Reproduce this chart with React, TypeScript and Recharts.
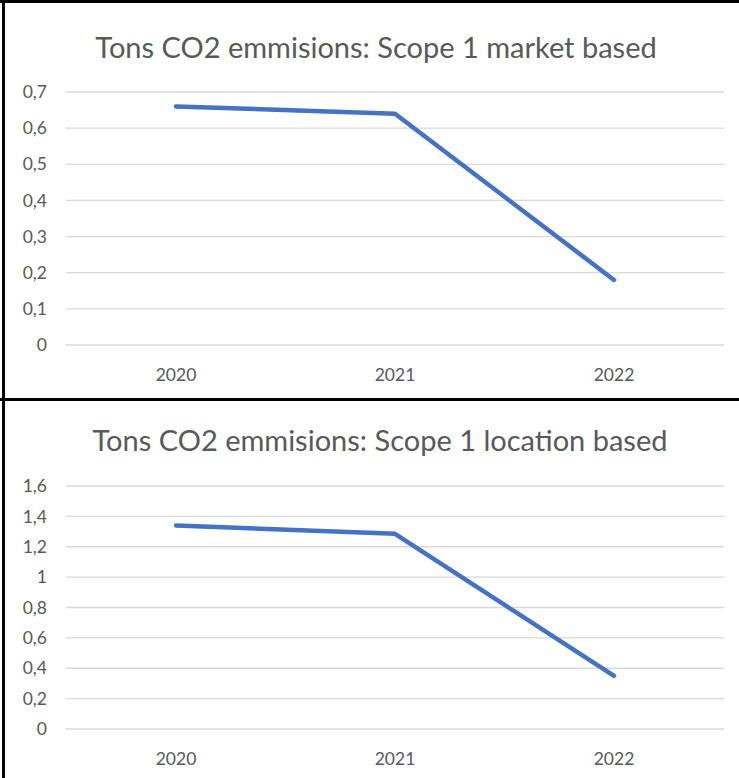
import { LineChart, Line, XAxis, YAxis, CartesianGrid } from "recharts";

const years = ["2020", "2021", "2022"];
const marketBased = [0.66, 0.64, 0.18];
const locationBased = [1.34, 1.285, 0.35];
const marketTicks = [0, 0.1, 0.2, 0.3, 0.4, 0.5, 0.6, 0.7];
const locationTicks = [0, 0.2, 0.4, 0.6, 0.8, 1, 1.2, 1.4, 1.6];

const FONT = "Lato, sans-serif";
const GREY = "#595959";

const fmt = (v: number) => String(v).replace(".", ",");

interface PanelProps {
  title: string;
  values: number[];
  ticks: number[];
  top: number;
  height: number;
  titleY: number;
  titleX: number;
  plotTop: number;
  plotBottom: number;
}

function Panel({ title, values, ticks, top, height, titleY, titleX, plotTop, plotBottom }: PanelProps) {
  const data = years.map((year, i) => ({ year, value: values[i] }));
  const xAxisHeight = 30;
  return (
    <div style={{ position: "absolute", left: 0, top, width: 739, height }}>
      <div
        style={{
          position: "absolute",
          left: titleX - 400,
          width: 800,
          top: titleY - 20,
          height: 40,
          lineHeight: "40px",
          textAlign: "center",
          fontFamily: FONT,
          fontSize: 29,
          color: GREY,
          whiteSpace: "nowrap",
        }}
      >
        {title}
      </div>
      <LineChart
        width={739}
        height={height}
        data={data}
        margin={{ top: plotTop, right: 15, left: 0, bottom: height - plotBottom - xAxisHeight }}
        style={{ position: "absolute", left: 0, top: 0 }}
      >
        <CartesianGrid vertical={false} stroke="#d9d9d9" strokeWidth={1.3} />
        <XAxis
          dataKey="year"
          height={xAxisHeight}
          axisLine={false}
          tickLine={false}
          tickMargin={18}
          padding={{ left: 110, right: 110 }}
          tick={{ fill: GREY, fontSize: 17.5, fontFamily: FONT }}
        />
        <YAxis
          width={66}
          domain={[ticks[0], ticks[ticks.length - 1]]}
          ticks={ticks}
          axisLine={false}
          tickLine={false}
          tickMargin={13}
          tickFormatter={fmt}
          tick={{ fill: GREY, fontSize: 17.5, fontFamily: FONT }}
        />
        <Line
          type="linear"
          dataKey="value"
          stroke="#4472C4"
          strokeWidth={4.5}
          strokeLinecap="round"
          strokeLinejoin="round"
          dot={false}
          activeDot={false}
          isAnimationActive={false}
        />
      </LineChart>
    </div>
  );
}

export default function App() {
  return (
    <div
      style={{
        position: "absolute",
        left: 0,
        top: 0,
        width: 739,
        height: 778,
        background: "#fff",
        overflow: "hidden",
      }}
    >
      <Panel
        title="Tons CO2 emmisions: Scope 1 market based"
        values={marketBased}
        ticks={marketTicks}
        top={0}
        height={399}
        titleY={47}
        titleX={376}
        plotTop={92}
        plotBottom={345}
      />
      <Panel
        title="Tons CO2 emmisions: Scope 1 location based"
        values={locationBased}
        ticks={locationTicks}
        top={401}
        height={377}
        titleY={39}
        titleX={380}
        plotTop={85}
        plotBottom={328}
      />
      {/* frame lines */}
      <div style={{ position: "absolute", left: 0, top: 0, width: 739, height: 3, background: "#000" }} />
      <div style={{ position: "absolute", left: 2, top: 0, width: 3, height: 778, background: "#000" }} />
      <div style={{ position: "absolute", left: 0, top: 398, width: 739, height: 3, background: "#000" }} />
    </div>
  );
}
